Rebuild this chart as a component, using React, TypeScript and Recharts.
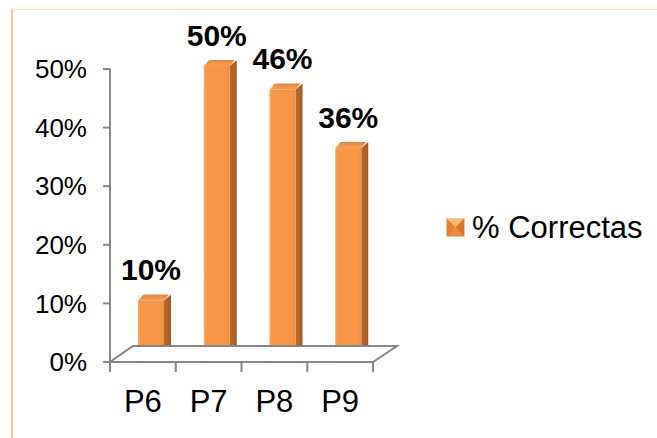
import React from 'react';
import { BarChart, Bar, XAxis, YAxis, Legend, LabelList, ReferenceLine } from 'recharts';

const categories = ['P6', 'P7', 'P8', 'P9'];
const correctas = [10, 50, 46, 36];
const yTicks = [0, 10, 20, 30, 40, 50];
const seriesName = '% Correctas';

const data = categories.map((cat, i) => ({ cat, value: correctas[i] }));

const FONT = '"Liberation Sans", Arial, Helvetica, sans-serif';
const AXIS = '#878787';
// 3D depth offsets for bars and the floor
const BAR_DX = 8;
const BAR_DY = -3;
const SIDE_W = 7;
const CAP_H = 6;
const FLOOR_DX = 24;
const FLOOR_DY = -16;

const Bar3D = (props: any) => {
  const { x, y, width, height } = props;
  if (width == null || height == null) return null;
  const fx = x + BAR_DX;
  const top = y + BAR_DY;
  const bottom = y + height + BAR_DY;
  const r = 3;
  return (
    <g>
      <ellipse
        cx={fx + width / 2 + 8}
        cy={bottom + 1}
        rx={width / 2 + 6}
        ry={3}
        fill="#000"
        opacity={0.12}
        filter="url(#barShadow)"
      />
      <polygon
        points={`${fx + width},${top} ${fx + width + SIDE_W},${top - CAP_H} ${fx + width + SIDE_W},${bottom - CAP_H} ${fx + width},${bottom}`}
        fill="url(#sideGrad)"
      />
      <path
        d={`M${fx},${top} L${fx + r},${top - CAP_H + r} Q${fx + r + 1},${top - CAP_H} ${fx + r + 4},${top - CAP_H} L${fx + width + SIDE_W - 2},${top - CAP_H} L${fx + width},${top} Z`}
        fill="url(#capGrad)"
      />
      <rect x={fx} y={top} width={width} height={bottom - top} fill="url(#frontGrad)" />
    </g>
  );
};

const ValueLabel = (props: any) => {
  const { x, y, width, value } = props;
  return (
    <text
      x={x + width / 2 + BAR_DX}
      y={y + BAR_DY - 20}
      textAnchor="middle"
      fontFamily={FONT}
      fontWeight="bold"
      fontSize={30}
      fill="#000"
    >
      {`${value}%`}
    </text>
  );
};

const Floor = (props: any) => {
  const { x1, y1, x2 } = props;
  const n = categories.length;
  const step = (x2 - x1) / n;
  const ticks = [];
  for (let i = 0; i <= n; i++) {
    const tx = x1 + i * step;
    ticks.push(<line key={i} x1={tx} y1={y1} x2={tx} y2={y1 + 10} stroke={AXIS} strokeWidth={2} />);
  }
  return (
    <g>
      <polygon
        points={`${x1},${y1} ${x2},${y1} ${x2 + FLOOR_DX},${y1 + FLOOR_DY} ${x1 + FLOOR_DX - 1},${y1 + FLOOR_DY}`}
        fill="#fff"
        stroke={AXIS}
        strokeWidth={2}
        strokeLinejoin="miter"
      />
      {ticks}
    </g>
  );
};

const LegendContent = () => (
  <div style={{ display: 'flex', alignItems: 'center', fontFamily: FONT, fontSize: 31, color: '#000', whiteSpace: 'nowrap' }}>
    <svg width={19} height={19} style={{ marginRight: 7 }}>
      <rect x={0.5} y={0.5} width={18} height={18} fill="#F79646" stroke="#E9C7A6" />
      <polygon points="1,1 18,1 9.5,9.5" fill="#FBB877" />
      <polygon points="1,18 18,18 9.5,9.5" fill="#F28A38" />
      <polygon points="1,1 9.5,9.5 1,18" fill="#E47F33" />
      <polygon points="18,1 9.5,9.5 18,18" fill="#D7732B" />
    </svg>
    <span style={{ lineHeight: '31px' }}>{seriesName}</span>
  </div>
);

export default function App() {
  return (
    <div style={{ position: 'absolute', left: 0, top: 0, width: 657, height: 438, background: '#fff', overflow: 'hidden' }}>
      <div style={{ position: 'absolute', left: 12, top: 9, width: 645, height: 1, background: '#FBD5B5' }} />
      <div style={{ position: 'absolute', left: 11, top: 9, width: 2, height: 429, background: '#FAC38F' }} />
      <BarChart
        width={657}
        height={438}
        data={data}
        margin={{ top: 69, right: 284, bottom: 16, left: 0 }}
        barCategoryGap="10%"
      >
        <defs>
          <linearGradient id="frontGrad" x1="0" y1="0" x2="1" y2="0">
            <stop offset="0%" stopColor="#F8A259" />
            <stop offset="15%" stopColor="#F79646" />
            <stop offset="85%" stopColor="#F79646" />
            <stop offset="100%" stopColor="#F08D3E" />
          </linearGradient>
          <linearGradient id="sideGrad" x1="0" y1="0" x2="1" y2="0">
            <stop offset="0%" stopColor="#B86A2E" />
            <stop offset="100%" stopColor="#A35A24" />
          </linearGradient>
          <linearGradient id="capGrad" x1="0" y1="0" x2="0" y2="1">
            <stop offset="0%" stopColor="#E08540" />
            <stop offset="100%" stopColor="#F6A05A" />
          </linearGradient>
          <filter id="barShadow" x="-50%" y="-200%" width="200%" height="500%">
            <feGaussianBlur stdDeviation="2" />
          </filter>
        </defs>
        <ReferenceLine y={0} shape={Floor} ifOverflow="visible" />
        <XAxis
          dataKey="cat"
          axisLine={false}
          tickLine={false}
          tickSize={0}
          tickMargin={28}
          height={60}
          interval={0}
          tick={{ fontFamily: FONT, fontSize: 31, fill: '#000' }}
        />
        <YAxis
          domain={[0, 50]}
          ticks={yTicks}
          width={110}
          tickSize={7}
          tickMargin={16}
          tickFormatter={(v: number) => `${v}%`}
          axisLine={{ stroke: AXIS, strokeWidth: 2 }}
          tickLine={{ stroke: AXIS, strokeWidth: 2 }}
          tick={{ fontFamily: FONT, fontSize: 26, fill: '#000' }}
        />
        <Legend
          layout="horizontal"
          verticalAlign="middle"
          align="center"
          content={LegendContent}
          wrapperStyle={{ left: 446, top: 212, width: 'auto' }}
        />
        <Bar dataKey="value" name={seriesName} barSize={26} shape={Bar3D} isAnimationActive={false}>
          <LabelList dataKey="value" content={ValueLabel} />
        </Bar>
      </BarChart>
    </div>
  );
}
